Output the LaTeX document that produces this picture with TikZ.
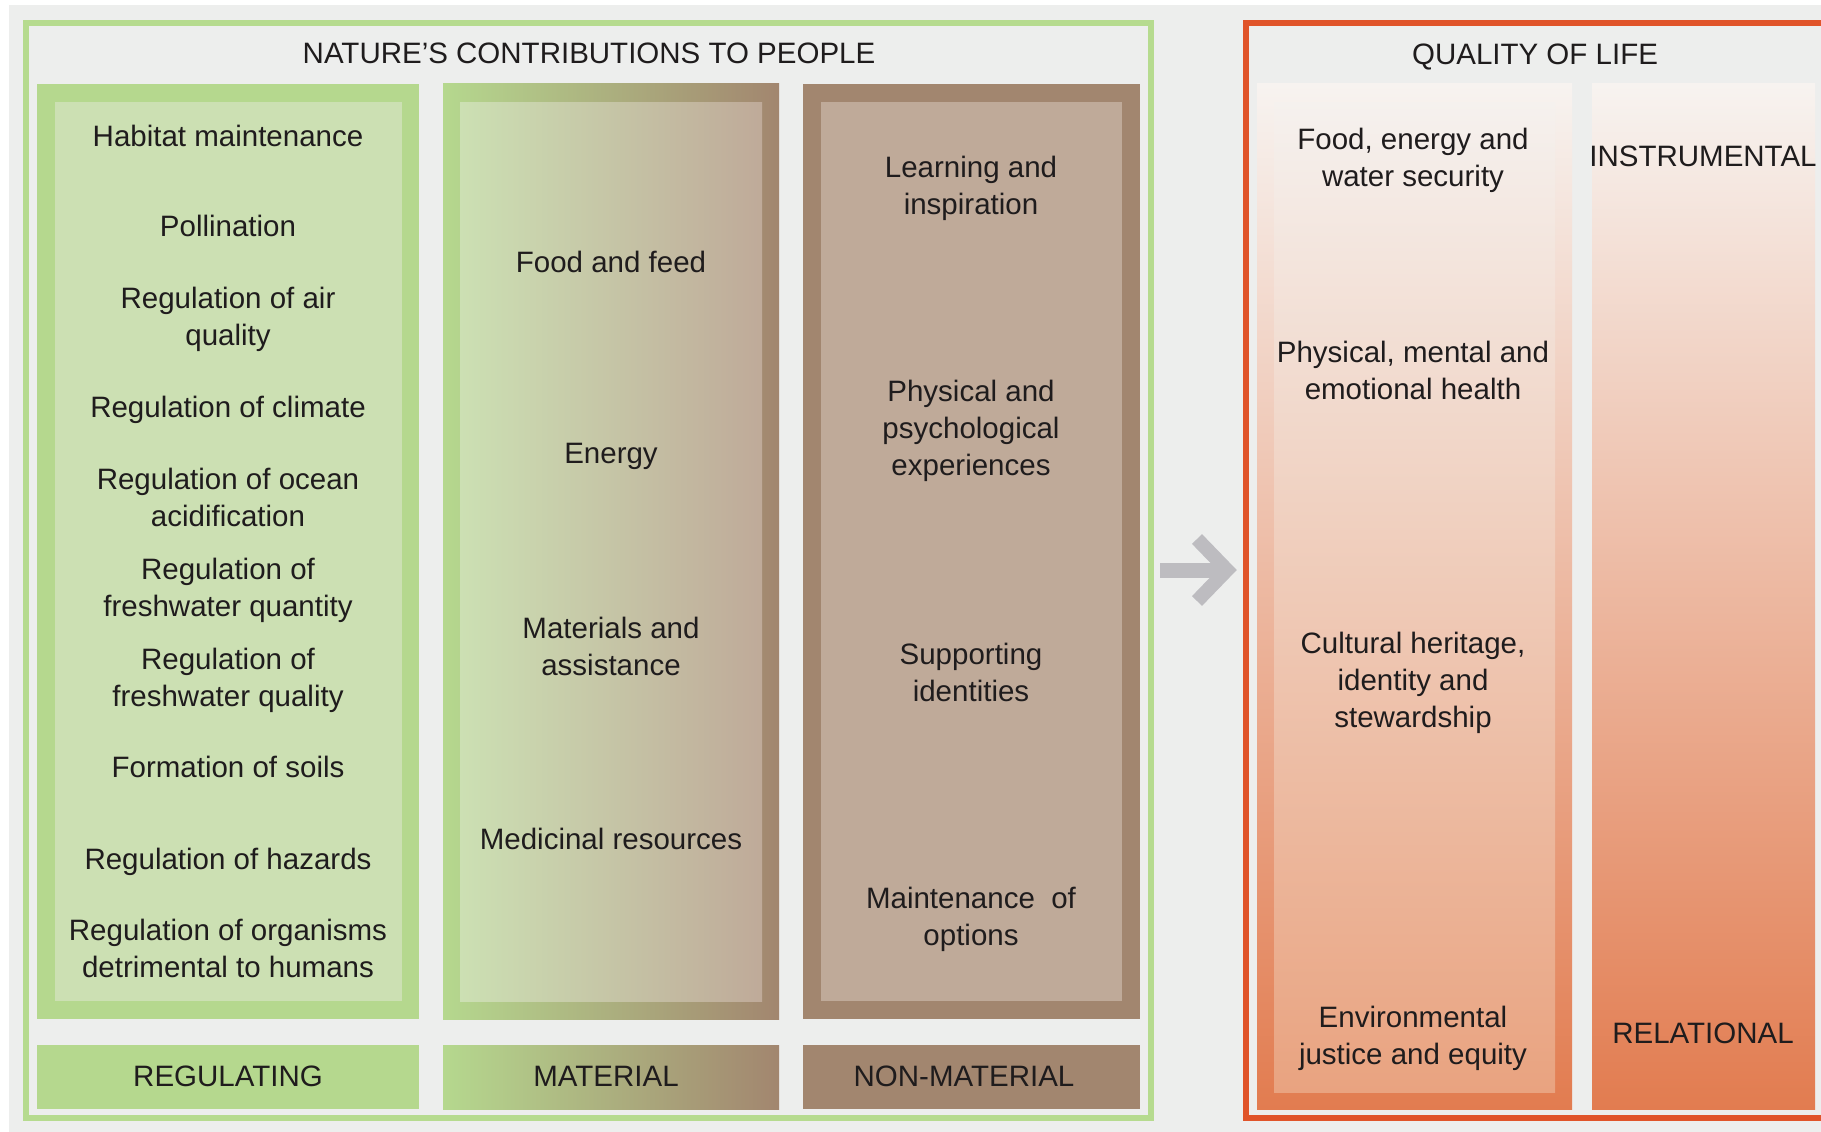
\documentclass[tikz,border=0pt]{standalone}
\usepackage{fontspec}
\setmainfont{Liberation Sans}
\definecolor{bg}{HTML}{EDEEED}
\definecolor{gframe}{HTML}{B6DB8F}
\definecolor{gout}{HTML}{B5D88E}
\definecolor{gin}{HTML}{CCE0B3}
\definecolor{bout}{HTML}{A2866F}
\definecolor{bin}{HTML}{BFAA99}
\definecolor{oframe}{HTML}{E0542A}
\definecolor{otop}{HTML}{F7F3F0}
\definecolor{omid}{HTML}{F0BE9F}
\definecolor{obot}{HTML}{E27C50}
\definecolor{itop}{HTML}{F5F1EE}
\definecolor{imid}{HTML}{F0CFBA}
\definecolor{ibot}{HTML}{E9A380}
\definecolor{arrowgrey}{HTML}{BDBCC0}
\definecolor{ink}{HTML}{1F1C1D}
\begin{document}
\begin{tikzpicture}[x=1pt,y=-1pt,
  txt/.style={align=center,font=\fontsize{29.5}{37}\selectfont,text=ink,inner sep=0pt,
    execute at begin node={\rule[-6pt]{0pt}{22pt}},
    execute at end node={\rule[-6pt]{0pt}{22pt}}},
  hdr/.style={txt}]
\useasboundingbox (0,0) rectangle (1821,1132);
\clip (0,0) rectangle (1821,1132);
\fill[white] (0,0) rectangle (1821,1132);
\fill[bg] (9,5) rectangle (1821,1132);

% ---- Nature's contributions to people ----
\draw[gframe,line width=6] (26,23) rectangle (1151,1118);
\fill[gout] (37,84) rectangle (419,1019);
\fill[gin] (55,102) rectangle (402,1001);
\shade[left color=gout,right color=bout] (443,84) rectangle (779,1019);
\shade[left color=gin,right color=bin] (460,102) rectangle (762,1001);
\fill[bout] (803,84) rectangle (1140,1019);
\fill[bin] (821,102) rectangle (1122,1001);
\fill[gout] (37,1045) rectangle (419,1109);
\shade[left color=gout,right color=bout] (443,1045) rectangle (779,1109);
\fill[bout] (803,1045) rectangle (1140,1109);

\node[hdr] (ncpT) at (589,56) {NATURE’S CONTRIBUTIONS TO PEOPLE};

\node[txt] (r1) at (228,138.5) {Habitat maintenance};
\node[txt] (r2) at (228,229) {Pollination};
\node[txt] (r3) at (228,319.5) {Regulation of air\\quality};
\node[txt] (r4) at (228,410) {Regulation of climate};
\node[txt] (r5) at (228,500.5) {Regulation of ocean\\acidification};
\node[txt] (r6) at (228,590.5) {Regulation of\\freshwater quantity};
\node[txt] (r7) at (228,680.5) {Regulation of\\freshwater quality};
\node[txt] (r8) at (228,770) {Formation of soils};
\node[txt] (r9) at (228,862) {Regulation of hazards};
\node[txt] (r10) at (228,951.5) {Regulation of organisms\\detrimental to humans};

\node[txt] (m1) at (611,265) {Food and feed};
\node[txt] (m2) at (611,456.5) {Energy};
\node[txt] (m3) at (611,649.5) {Materials and\\assistance};
\node[txt] (m4) at (611,842) {Medicinal resources};

\node[txt] (n1) at (971,188.5) {Learning and\\inspiration};
\node[txt] (n2) at (971,431) {Physical and\\psychological\\experiences};
\node[txt] (n3) at (971,675) {Supporting\\identities};
\node[txt] (n4) at (971,919) {Maintenance\ \ of\\options};

\node[hdr] (lreg) at (228,1079) {REGULATING};
\node[hdr] (lmat) at (606,1079) {MATERIAL};
\node[hdr] (lnon) at (964,1079) {NON-MATERIAL};

% ---- Quality of life ----
\draw[oframe,line width=6] (1246,23) rectangle (1900,1118);
\shade[top color=otop,middle color=omid,bottom color=obot] (1257,84) rectangle (1572,1109);
\shade[top color=itop,middle color=imid,bottom color=ibot] (1274,102) rectangle (1555,1092);
\shade[top color=otop,middle color=omid,bottom color=obot] (1592,84) rectangle (1815,1109);

\node[hdr] (qolT) at (1535,57) {QUALITY OF LIFE};

\node[txt] (q1) at (1413,160.5) {Food, energy and\\water security};
\node[txt] (q2) at (1413,373) {Physical, mental and\\emotional health};
\node[txt] (q3) at (1413,683) {Cultural heritage,\\identity and\\stewardship};
\node[txt] (q4) at (1413,1038.5) {Environmental\\justice and equity};

\node[hdr] (inst) at (1703,159) {INSTRUMENTAL};
\node[hdr] (rel) at (1703,1036) {RELATIONAL};

% ---- arrow ----
\coordinate (arrS) at (1160,570);
\coordinate (arrE) at (1227,570);
\draw[arrowgrey,line width=15] (arrS) -- (arrE);
\draw[arrowgrey,line width=14,line join=miter] ([shift={(-30,-31)}]arrE) -- (arrE) -- ([shift={(-30,31)}]arrE);
\end{tikzpicture}
\end{document}
